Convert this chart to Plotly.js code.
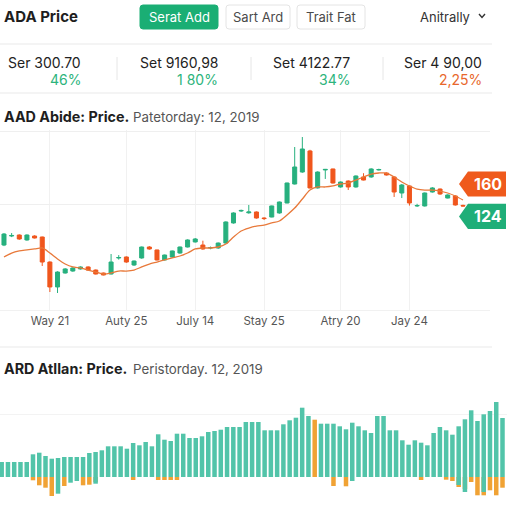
<!DOCTYPE html>
<html>
<head>
<meta charset="utf-8">
<script src="https://cdn.plot.ly/plotly-3.0.1.min.js"></script>
<style>html,body{margin:0;padding:0;background:#fff;}#chart{width:512px;height:512px;}</style>
</head>
<body>
<div id="chart"></div>
<script>
// ---------------- DATA ----------------
const pageTitle = "ADA Price";
const buttonLabels = ["Serat Add", "Sart Ard", "Trait Fat"];
const dropdownLabel = "Anitrally";
const statLabels = ["Ser 300.70", "Set 9160,98", "Set 4122.77", "Ser 4 90,00"];
const statChanges = ["46%", "1 80%", "34%", "2,25%"];
const statUp = [true, true, true, false];

const chart1Title = "AAD Abide: Price.";
const chart1Sub = "Patetorday: 12, 2019";
const chart2Title = "ARD Atllan: Price.";
const chart2Sub = "Peristorday. 12, 2019";

const candleOpen  = [92.2,102.2,103.3,97.8,102.2,101.1,73.3,45.6,61.1,63.3,65.6,67.8,64.4,61.1,60,77.8,78.9,70,77.8,90,86.7,75.6,78.9,83.3,90,95.6,92.2,88.9,88.9,94.4,116.7,130,128,128.9,122.2,123.3,127.8,138.9,160,173.3,196.7,155.6,175.6,176.7,156.7,163.3,156.7,167.8,167.8,175.6,172.2,167.8,150,157.8,135.6,135.6,151.1,154.4,144.4,146.7,136.2];
const candleClose = [104.4,102.8,98.9,103.3,100,73.3,45.6,62.2,65.6,66.7,67.8,64.4,60,58.9,73.3,78.3,73.3,74.4,90,87.8,75.6,81.1,85.6,90,97.8,98.9,87.8,89.4,94.4,117.8,127.8,130.6,128.9,122.2,121.6,135.6,140,161.1,178.9,198.9,155.6,173.3,176.2,161.1,162.2,156.7,168.9,164.4,176.7,176.1,170,151.1,158.9,138.9,136.1,150,155.6,148.9,147.8,136.7,135.6];
const candleHigh  = [105.5,105.5,104,104,103,101.5,74,63,66.5,67.5,68.5,68.5,65,61.5,82.2,81,79.5,75,90.5,91,87,81.5,86,90.5,98.5,100,97,90.5,95,118.5,128.5,131.5,136.7,129.5,123,136,140.5,161.5,201.1,212.2,198,174,176.7,177,162.8,164,169.5,172,177.5,177,172.8,168.5,160,158.5,138,150.5,156.5,155,148.5,147.5,137];
const candleLow   = [91,101,98,97,99.5,68.9,40,38.9,60.5,62.5,65,63.5,59.5,58.5,59.5,76,72.5,69,77,87,75,75,78,82.5,89.5,95,87,87.5,88,94,116,129,127,121.5,120,123,127,138.5,159.5,172.5,155,155,165.6,160.5,156,153.3,156,164,167,175,169.5,145.6,144.4,136,134.5,135,150.5,148,144,136,134.8];
const movingAvg   = [78.9,83.3,85.6,86.7,87.8,88.9,83.3,76.7,71.1,67.8,66.7,64.4,62.2,60,61.1,63.3,63.3,64.4,67.8,71.1,73.3,75.6,77.8,80,83.3,87.8,88.9,88.9,90,93.3,101.1,107.8,111.1,113.3,114.4,116.7,118.9,125.6,133.3,143.3,153.3,156.7,156.7,157.8,160,161.1,164.4,167.8,171.1,172.2,172.2,167.8,162.2,157.8,154.4,153.3,153.3,152.2,150,146.7,142.2];
const xTickIndex  = [6, 16, 25, 34, 44, 53];
const xTickLabels = ["Way 21", "Auty 25", "July 14", "Stay 25", "Atry 20", "Jay 24"];
const priceTags   = [160, 124];

const volUp   = [15,15,15,15,15,22.7,24.3,21,18.3,19,20,20,20,20,24,25,26.7,30.7,30.7,30.7,28.3,34,31.7,35,30.7,42.7,37.3,36,43.3,43.3,39,39,40.7,45,46,47.3,50,50,50,55,55,55,46.7,46.7,46.7,52.7,56.7,59.3,69.3,61,0,53.3,53.3,53.3,50.7,47.7,54.3,50.7,46.7,44,61,61,46.7,46.7,36.7,32.3,36.7,34.3,31.7,44,50,46.7,42.3,50.7,57.7,66.7,56,62.7,66,75,59];
const volDown = [0,0,0,0,0,0,0,0,0,-16.7,0,-5.7,-4,0,0,-6.7,0,0,0,0,0,0,0,0,0,0,0,0,0,0,0,0,0,0,0,0,0,0,0,0,0,0,0,0,0,0,0,0,0,0,0,0,0,0,0,0,-4,0,0,0,0,0,0,0,0,0,0,0,0,0,0,0,0,-8,-15,0,0,-15,0,0,0];
const flowOut = [0,0,0,0,0,-3.3,-8.3,-10.7,-19,0,-9,0,0,-8.3,-7.7,-5,0,0,0,0,0,-3,0,0,0,-3,-3,-3,-3,0,0,0,0,0,0,0,0,0,0,0,0,0,0,0,0,0,0,0,0,0,57.3,0,0,-9,0,-9.3,0,0,0,0,0,0,0,0,0,0,0,-3,0,0,0,-2.7,-4,-10,-12,-5,-18.3,-18.3,-13.3,-18.3,-10.7];

// ---------------- STYLE ----------------
const FONT = "Inter, 'Open Sans', sans-serif";
const GREEN = "#27b07e", RED = "#f0561d";
const BAR_GREEN = "#52c4a9", BAR_ORANGE = "#f0a234";
const W = 512, H = 512;
const X = p => p / W;
const Y = p => 1 - p / H;

const candleX = candleOpen.map((_, i) => i);
const barX = volUp.map((_, i) => i);

const traces = [
  {
    type: "candlestick", x: candleX, open: candleOpen, high: candleHigh, low: candleLow, close: candleClose,
    xaxis: "x", yaxis: "y",
    increasing: {line: {color: GREEN, width: 1}, fillcolor: GREEN},
    decreasing: {line: {color: RED, width: 1}, fillcolor: RED},
    whiskerwidth: 0, showlegend: false, hoverinfo: "skip"
  },
  {
    type: "scatter", mode: "lines", x: candleX, y: movingAvg, xaxis: "x", yaxis: "y",
    line: {color: "#e8793a", width: 1.3, shape: "spline", smoothing: 0.8}, showlegend: false, hoverinfo: "skip"
  },
  {
    type: "bar", x: barX, y: flowOut, xaxis: "x2", yaxis: "y2",
    marker: {color: BAR_ORANGE}, showlegend: false, hoverinfo: "skip"
  },
  {
    type: "bar", x: barX, y: volUp.map((v, i) => v - volDown[i]), base: volDown, xaxis: "x2", yaxis: "y2",
    marker: {color: BAR_GREEN}, showlegend: false, hoverinfo: "skip"
  }
];

const annotations = [];
const shapes = [];
function txt(text, x, y, o) {
  o = o || {};
  annotations.push({
    text: text, xref: "paper", yref: "paper", x: X(x), y: Y(y), showarrow: false,
    xanchor: o.xa || "left", yanchor: "middle",
    font: {family: FONT, size: o.size || 13, color: o.color || "#222", weight: o.weight || 400}
  });
}
function rrect(x0, y0, x1, y1, r) {
  const a = (x, y) => X(x) + "," + Y(y);
  return "M" + a(x0 + r, y0) + " L" + a(x1 - r, y0) + " Q" + a(x1, y0) + " " + a(x1, y0 + r) +
    " L" + a(x1, y1 - r) + " Q" + a(x1, y1) + " " + a(x1 - r, y1) + " L" + a(x0 + r, y1) +
    " Q" + a(x0, y1) + " " + a(x0, y1 - r) + " L" + a(x0, y0 + r) + " Q" + a(x0, y0) + " " + a(x0 + r, y0) + " Z";
}
function hline(x0, x1, y, c) {
  shapes.push({type: "line", xref: "paper", yref: "paper", x0: X(x0), x1: X(x1), y0: Y(y), y1: Y(y), line: {color: c || "#e9e9e9", width: 1}});
}
function vline(x, y0, y1, c) {
  shapes.push({type: "line", xref: "paper", yref: "paper", x0: X(x), x1: X(x), y0: Y(y0), y1: Y(y1), line: {color: c || "#e6e6e6", width: 1}});
}

// header
txt("<b>" + pageTitle + "</b>", 2, 16, {size: 15, color: "#1e1e1e"});
const btnBox = [[140, 218], [226, 290], [297, 365]];
buttonLabels.forEach((b, i) => {
  const [x0, x1] = btnBox[i];
  shapes.push({type: "path", xref: "paper", yref: "paper", path: rrect(x0, 5, x1, 29, 3),
    fillcolor: i === 0 ? "#1aae74" : "#ffffff", line: {color: i === 0 ? "#1aae74" : "#e4e4e4", width: 1}});
  txt(b, (x0 + x1) / 2, 17, {xa: "center", size: 13, color: i === 0 ? "#ffffff" : "#4a4a4a"});
});
txt(dropdownLabel, 418, 16.5, {size: 13, color: "#333"});
shapes.push({type: "path", xref: "paper", yref: "paper",
  path: "M" + X(479) + "," + Y(14) + " L" + X(482) + "," + Y(17.5) + " L" + X(485) + "," + Y(14),
  line: {color: "#333", width: 1.4}});
hline(0, 492, 44);

// stats row
const statRight = [83, 220, 352, 484];
statLabels.forEach((s, i) => {
  txt(s, statRight[i], 62, {xa: "right", size: 14, color: "#222"});
  txt(statChanges[i], statRight[i], 79, {xa: "right", size: 14, color: statUp[i] ? "#2db47c" : "#e8672c"});
});
[117, 251, 383].forEach(x => vline(x, 57, 80));
hline(0, 492, 93);

// chart titles
txt("<b>" + chart1Title + "</b>", 2, 116, {size: 14.3, color: "#1e1e1e"});
txt(chart1Sub, 131, 116.5, {size: 13.3, color: "#555"});
hline(0, 492, 347);
txt("<b>" + chart2Title + "</b>", 2, 368, {size: 14.3, color: "#1e1e1e"});
txt(chart2Sub, 131, 368.5, {size: 13.3, color: "#555"});

// price tags
const tagColors = ["#ef5a1c", "#1fae78"];
priceTags.forEach((v, i) => {
  const h = 14;
  shapes.push({type: "path", xref: "paper", yref: "y",
    path: "M" + X(459) + "," + v + " L" + X(468) + "," + (v + h) + " L" + X(506) + "," + (v + h) +
      " L" + X(506) + "," + (v - h) + " L" + X(468) + "," + (v - h) + " Z",
    fillcolor: tagColors[i], line: {width: 0}});
  annotations.push({text: "<b>" + v + "</b>", xref: "paper", yref: "y", x: X(488), y: v, showarrow: false,
    xanchor: "center", yanchor: "middle", font: {family: FONT, size: 16, color: "#fff"}});
});

const layout = {
  width: W, height: H, margin: {l: 0, r: 0, t: 0, b: 0}, paper_bgcolor: "#fff", plot_bgcolor: "#fff",
  showlegend: false, barmode: "overlay", bargap: 0.28, boxgap: 0.25,
  font: {family: FONT},
  xaxis: {domain: [0, 490 / W], range: [-0.52, 63.53], tickvals: xTickIndex, ticktext: xTickLabels,
    showgrid: true, gridcolor: "#f1f1f1", zeroline: false, showline: true, linecolor: "#f1f1f1",
    ticks: "", tickfont: {family: FONT, size: 11.5, color: "#555"}, rangeslider: {visible: false}, fixedrange: true},
  yaxis: {domain: [Y(310), Y(130)], range: [20, 220], tickvals: [136.7, 217.8], showticklabels: false,
    showgrid: true, gridcolor: "#efefef", zeroline: false, fixedrange: true},
  xaxis2: {anchor: "y2", domain: [0, 507 / W], range: [-0.27, 80.72], showticklabels: false, showgrid: false,
    zeroline: false, fixedrange: true},
  yaxis2: {anchor: "x2", domain: [Y(505), Y(390)], range: [-28, 87], tickvals: [63], showticklabels: false,
    showgrid: true, gridcolor: "#f3f3f3", zeroline: false, fixedrange: true},
  annotations: annotations, shapes: shapes
};

Plotly.newPlot("chart", traces, layout, {displayModeBar: false, staticPlot: true});
</script>
</body>
</html>
